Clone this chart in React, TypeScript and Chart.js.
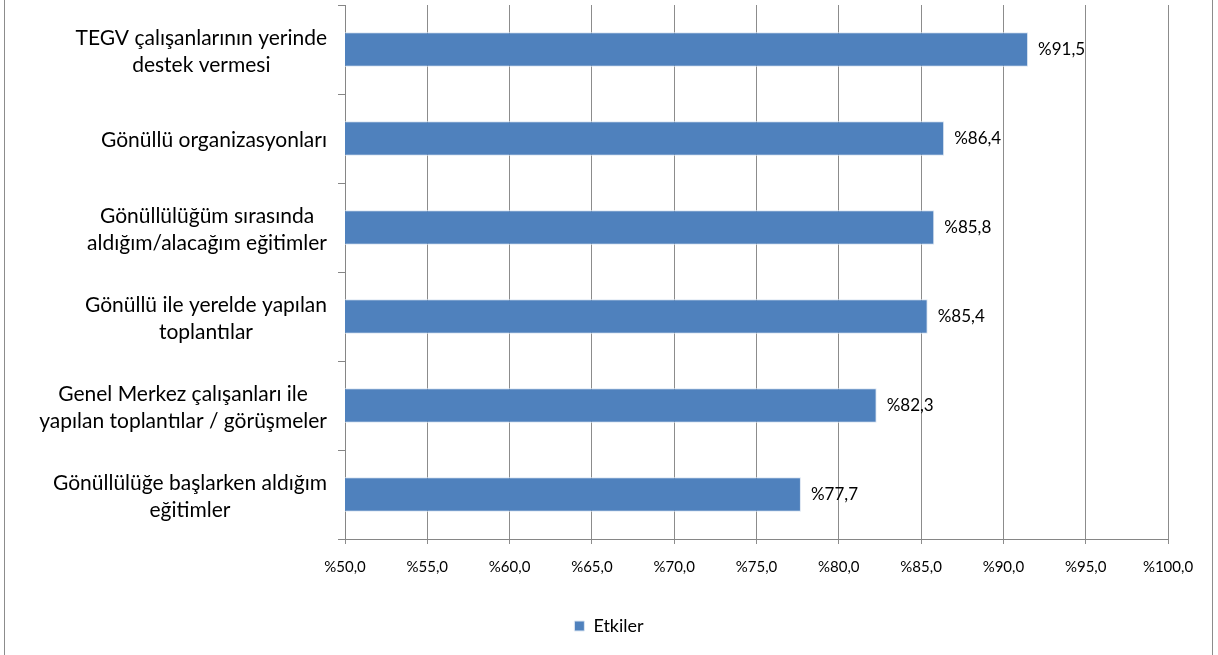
import React, { useEffect, useRef } from "react";
import { Chart, registerables } from "chart.js";

Chart.register(...registerables);

const categories: string[][] = [
  ["TEGV çalışanlarının yerinde", "destek vermesi"],
  ["Gönüllü organizasyonları"],
  ["Gönüllülüğüm sırasında", "aldığım/alacağım eğitimler"],
  ["Gönüllü ile yerelde yapılan", "toplantılar"],
  ["Genel Merkez çalışanları ile", "yapılan toplantılar / görüşmeler"],
  ["Gönüllülüğe başlarken aldığım", "eğitimler"],
];
const seriesName = "Etkiler";
const values: number[] = [91.5, 86.4, 85.8, 85.4, 82.3, 77.7];
const xMin = 50;
const xMax = 100;
const xStep = 5;

const FONT = "Lato, 'Open Sans', sans-serif";
const fmt = (v: number) => "%" + v.toFixed(1).replace(".", ",");

export default function App() {
  const ref = useRef<HTMLCanvasElement | null>(null);
  useEffect(() => {
    const canvas = ref.current!;
    const yLabelPlugin = {
      id: "yLabels",
      afterDraw(chart: any) {
        const ctx = chart.ctx;
        const ys = chart.scales.y;
        ctx.save();
        ctx.font = `21px ${FONT}`;
        ctx.fillStyle = "#000";
        ctx.textAlign = "center";
        ctx.textBaseline = "middle";
        const lh = 27;
        categories.forEach((lines, i) => {
          const y = ys.getPixelForValue(i) + 2;
          const w = Math.max(...lines.map((l) => ctx.measureText(l).width));
          const cx = 327 - w / 2;
          const start = y - ((lines.length - 1) * lh) / 2;
          lines.forEach((l, j) => ctx.fillText(l, cx, start + j * lh));
        });
        ctx.restore();
      },
    };
    const dataLabelPlugin = {
      id: "dataLabels",
      afterDatasetsDraw(chart: any) {
        const ctx = chart.ctx;
        const meta = chart.getDatasetMeta(0);
        ctx.save();
        ctx.font = `17px ${FONT}`;
        ctx.fillStyle = "#000";
        ctx.textAlign = "left";
        ctx.textBaseline = "middle";
        meta.data.forEach((bar: any, i: number) => {
          ctx.fillText(fmt(values[i]), bar.x + 10, bar.y);
        });
        ctx.restore();
      },
    };
    const chart = new Chart(canvas, {
      type: "bar",
      data: {
        labels: categories.map((c) => c.join(" ")),
        datasets: [
          {
            label: seriesName,
            data: values,
            backgroundColor: "#4F81BD",
            borderColor: "#DCE6F2",
            borderWidth: 1,
            borderSkipped: "start",
            barPercentage: 0.39,
            categoryPercentage: 1,
          },
        ],
      },
      options: {
        indexAxis: "y",
        animation: false,
        responsive: false,
        maintainAspectRatio: false,
        layout: { padding: { top: 5, right: 50, left: 50, bottom: 10 } },
        scales: {
          x: {
            type: "linear",
            min: xMin,
            max: xMax,
            ticks: {
              stepSize: xStep,
              callback: (v: any) => fmt(Number(v)),
              font: { family: FONT, size: 15 },
              color: "#000",
              padding: 14,
            },
            grid: { color: "#8C8C8C", tickLength: 5, lineWidth: 1 },
            border: { color: "#868686", width: 1 },
            afterFit: (s: any) => {
              s.height = 68;
            },
          },
          y: {
            type: "category",
            ticks: { display: false },
            grid: {
              display: true,
              drawOnChartArea: false,
              offset: true,
              tickLength: 7,
              color: "#868686",
            },
            border: { color: "#868686", width: 1 },
            afterFit: (s: any) => {
              s.width = 295;
            },
          },
        },
        plugins: {
          legend: {
            position: "bottom",
            labels: {
              boxWidth: 10,
              boxHeight: 10,
              padding: 10,
              font: { family: FONT, size: 18 },
              color: "#000",
            },
          },
          tooltip: { enabled: false },
        },
      },
      plugins: [yLabelPlugin, dataLabelPlugin],
    } as any);
    return () => chart.destroy();
  }, []);
  return (
    <div style={{ position: "fixed", left: 0, top: 0, width: 1218, height: 655, background: "#fff", overflow: "hidden" }}>
      <div style={{ position: "absolute", left: 4, top: -10, width: 1209, height: 700, border: "1px solid #8C8C8C", boxSizing: "border-box" }} />
      <canvas ref={ref} width={1218} height={655} style={{ position: "absolute", left: 0, top: 0 }} />
    </div>
  );
}
